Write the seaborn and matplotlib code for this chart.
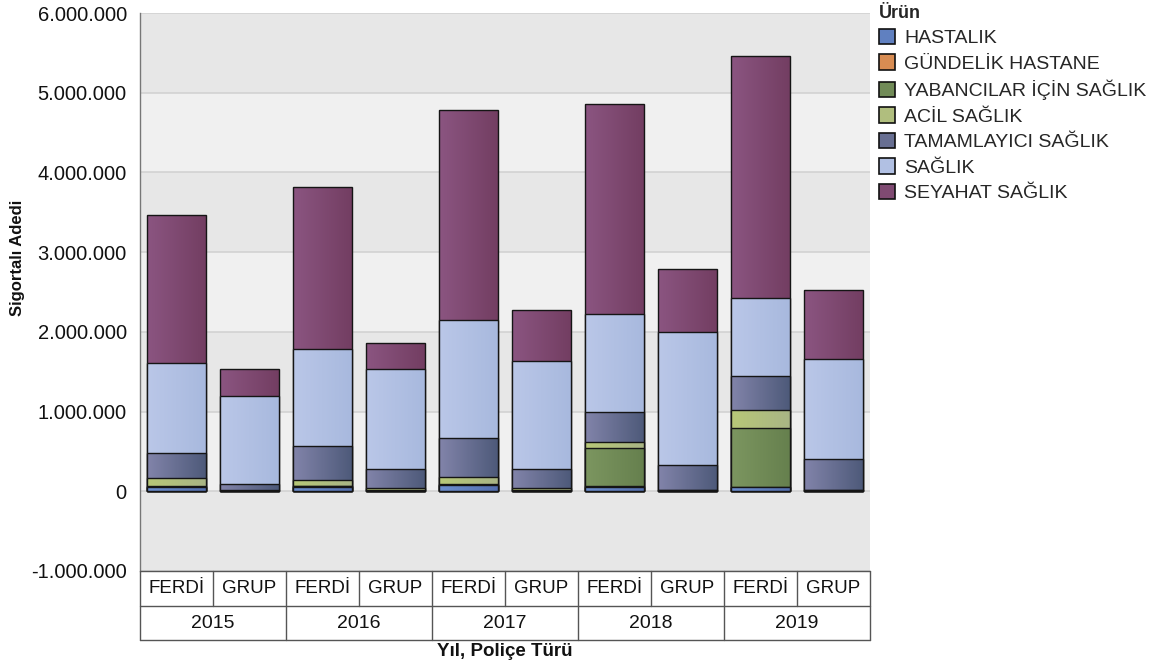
import numpy as np
import pandas as pd
import matplotlib
matplotlib.use("Agg")
import matplotlib.pyplot as plt
from matplotlib.patches import Patch
import matplotlib.colors as mcolors
import seaborn as sns

# data
years = ["2015", "2016", "2017", "2018", "2019"]
policy_types = ["FERDİ", "GRUP"]
products = ["HASTALIK", "GÜNDELİK HASTANE", "YABANCILAR İÇİN SAĞLIK", "ACİL SAĞLIK",
            "TAMAMLAYICI SAĞLIK", "SAĞLIK", "SEYAHAT SAĞLIK"]

# order: 2015 FERDİ, 2015 GRUP, 2016 FERDİ, ... 2019 GRUP
hastalik    = [55000, 5000, 60000, 8000, 75000, 8000, 60000, 8000, 50000, 8000]
gundelik    = [2000, 2000, 2000, 1000, 2000, 1000, 3000, 1000, 3000, 1000]
yabancilar  = [5000, 2000, 8000, 3000, 10000, 5000, 475000, 4000, 737000, 4000]
acil        = [100000, 8000, 70000, 35000, 88000, 22000, 75000, 5000, 235000, 5000]
tamamlayici = [317000, 75000, 434000, 230000, 495000, 238000, 387000, 307000, 420000, 382000]
saglik      = [1128000, 1104000, 1216000, 1254000, 1480000, 1358000, 1220000, 1679000, 980000, 1258000]
seyahat     = [1855000, 334000, 2022000, 333000, 2630000, 646000, 2634000, 783000, 3038000, 867000]

series = [hastalik, gundelik, yabancilar, acil, tamamlayici, saglik, seyahat]

# left/right colours of the horizontal gradient on each bar
grad_colors = [("#6d8fcf", "#5470b0"),
               ("#e39a5e", "#cc7f45"),
               ("#7c9660", "#66804e"),
               ("#b8c878", "#a9b585"),
               ("#8284aa", "#4e5a7a"),
               ("#bac7e8", "#a8b9de"),
               ("#8b5581", "#733e62")]

cats = [f"{y} {p}" for y in years for p in policy_types]
cum = np.cumsum(np.array(series), axis=0)

sns.set_style("white")
plt.rcParams["font.family"] = ["Liberation Sans", "DejaVu Sans"]
narrow = ["Liberation Sans Narrow", "Liberation Sans", "DejaVu Sans"]

fig = plt.figure(figsize=(11.52, 6.66), dpi=100)
ax = fig.add_axes([140 / 1152, 1 - 571 / 666, 730 / 1152, 558 / 666])

# alternating background bands + grid lines
for i, lo in enumerate(range(-1, 6)):
    ax.axhspan(lo * 1e6, (lo + 1) * 1e6, color="#e7e7e7" if i % 2 == 0 else "#f0f0f0",
               zorder=0, lw=0)
for v in range(-1, 7):
    ax.axhline(v * 1e6, color="#d2d2d2", lw=1.2, zorder=0.5)

# stacked bars: draw the cumulative totals from the top layer down
z = 2
for k in range(len(products) - 1, -1, -1):
    n_before = len(ax.patches)
    df = pd.DataFrame({"cat": cats, "val": cum[k]})
    sns.barplot(data=df, x="cat", y="val", order=cats, color=grad_colors[k][0],
                saturation=1, width=0.8, errorbar=None, ax=ax)
    c0 = np.array(mcolors.to_rgb(grad_colors[k][0]))
    c1 = np.array(mcolors.to_rgb(grad_colors[k][1]))
    t = np.linspace(0, 1, 64)[:, None]
    grad = (c0 * (1 - t) + c1 * t)[None, :, :]
    for p in ax.patches[n_before:]:
        x0, y0 = p.get_x(), p.get_y()
        w, h = p.get_width(), p.get_height()
        im = ax.imshow(grad, extent=[x0, x0 + w, y0, y0 + h], aspect="auto",
                       interpolation="bilinear", zorder=z)
        im.set_clip_path(p)
        p.set_facecolor("none")
        p.set_edgecolor("#151515")
        p.set_linewidth(1.0)
        p.set_zorder(z + 0.5)
    z += 1

ax.set_xlim(-0.5, len(cats) - 0.5)
ax.set_ylim(-1e6, 6e6)
ax.set_yticks([v * 1e6 for v in range(-1, 7)])
ax.set_yticklabels([f"{v * 1000000:,.0f}".replace(",", ".") for v in range(-1, 7)])
ax.tick_params(axis="y", direction="out", length=7.5, width=1, color="#666666",
               labelsize=14.5, pad=2, labelcolor="#111111")
ax.tick_params(axis="x", length=0, labelbottom=False)
ax.set_xlabel("")
ax.set_ylabel("")
for s in ["top", "right", "bottom"]:
    ax.spines[s].set_visible(False)
ax.spines["left"].set_color("#777777")
ax.spines["left"].set_linewidth(1)

# category table below the plot
tr = ax.get_xaxis_transform()
r1, r2 = -35 / 558, -69 / 558
lc = "#555555"
for y in [0, r1, r2]:
    ax.plot([-0.5, 9.5], [y, y], transform=tr, color=lc, lw=1, clip_on=False, zorder=5)
for b in np.arange(-0.5, 10, 1.0):
    bottom = r2 if (b + 0.5) % 2 == 0 else r1
    ax.plot([b, b], [0, bottom], transform=tr, color=lc, lw=1, clip_on=False, zorder=5)
for i, c in enumerate(cats):
    ax.text(i, r1 / 2, c.split(" ")[1], transform=tr, ha="center", va="center",
            fontsize=13.5, family=narrow, color="#111111")
for j, y in enumerate(years):
    ax.text(2 * j + 0.5, (r1 + r2) / 2, y, transform=tr, ha="center", va="center",
            fontsize=14, family=narrow, color="#111111")
ax.text(4.5, -81 / 558, "Yıl, Poliçe Türü", transform=tr, ha="center", va="center",
        fontsize=13.5, fontweight="bold", family=narrow, color="#111111")

fig.text(18 / 1152, 1 - 258 / 666, "Sigortalı Adedi", rotation=90, ha="center",
         va="center", fontsize=12, fontweight="bold", color="#111111")

# legend
handles = [Patch(facecolor=mcolors.to_hex((np.array(mcolors.to_rgb(a)) + np.array(mcolors.to_rgb(b))) / 2),
                 edgecolor="#111111", lw=1.2) for a, b in grad_colors]
leg = fig.legend(handles, products, loc="upper left", bbox_to_anchor=(875 / 1152, 1 - 1 / 666),
                 frameon=False, fontsize=14, title="Ürün", handlelength=0.85, handleheight=0.85,
                 handletextpad=0.45, labelspacing=0.36, borderaxespad=0, borderpad=0.2,
                 title_fontproperties={"weight": "bold", "size": 13})
leg._legend_box.align = "left"

fig.savefig("out.png", dpi=100)
